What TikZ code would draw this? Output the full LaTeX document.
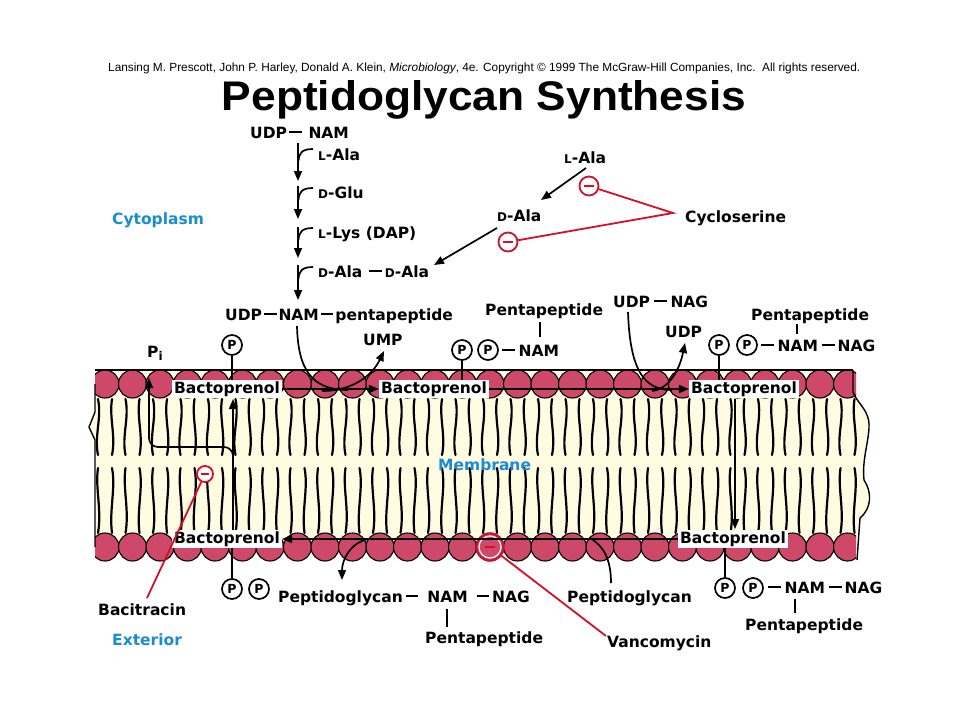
\documentclass[tikz,border=0pt]{standalone}
\usepackage{graphicx}
\usepackage{fontspec}
\setmainfont{DejaVu Sans}
\newfontfamily\libsans{Liberation Sans}
\usetikzlibrary{arrows.meta,calc}
\definecolor{headpink}{RGB}{205,72,105}
\definecolor{cream}{RGB}{255,252,226}
\definecolor{lblblue}{RGB}{25,140,210}
\definecolor{inhred}{RGB}{212,16,40}
\newcommand\sclet[1]{{\fontsize{12}{12}\selectfont #1}}
\newcommand\hbarr[2]{\hspace{#1}\rule[5pt]{12.5pt}{2.2pt}\hspace{#2}}
\begin{document}
\begin{tikzpicture}[x=1pt,y=-1pt,
  lbl/.style={font=\fontsize{15.5}{16}\selectfont\bfseries, inner sep=0pt, anchor=base west},
  bluelbl/.style={lbl, text=lblblue},
  bpbox/.style={font=\fontsize{15.5}{16}\selectfont\bfseries, fill=white, inner xsep=2pt, inner ysep=0pt, minimum height=18pt, anchor=center},
  pcirc/.style={circle, draw, line width=1.7pt, minimum size=20pt, inner sep=0pt, font=\fontsize{12.5}{13}\selectfont\bfseries, fill=white},
  minus/.style={circle, draw=inhred, fill=white, line width=1.8pt, minimum size=19pt, inner sep=0pt},
  mdash/.style={draw=inhred, line width=2pt},
  arr/.style={line width=1.7pt, -{Triangle[length=10pt,width=8pt]}},
  plain/.style={line width=1.7pt},
  redline/.style={draw=inhred, line width=1.8pt},
  tail/.style={line width=2.2pt, line cap=round},
  head/.style={fill=headpink, draw=black, line width=1.1pt},
]
\fill[white] (0,0) rectangle (960,720);
\useasboundingbox (0,0) rectangle (960,720);

% ---------- header ----------
\node[anchor=base west, inner sep=0pt] (copy) at (108,71) {\resizebox{752pt}{!}{\libsans\fontsize{10}{10}\selectfont Lansing M. Prescott, John P. Harley, Donald A. Klein, \textit{Microbiology}, 4e. Copyright © 1999 The McGraw-Hill Companies, Inc.\ \ All rights reserved.}};
\node[anchor=base, inner sep=0pt] (title) at (484,110) {\resizebox{524pt}{30pt}{\libsans\bfseries\fontsize{40}{40}\selectfont Peptidoglycan Synthesis}};

% ---------- membrane ----------
\fill[cream] (95,370) -- (853,370) -- (853,392) .. controls (858,405) and (870,410) .. (869,428) .. controls (868,445) and (862,460) .. (864,480) .. controls (872,492) and (872,508) .. (860,518) -- (857,547) -- (95,547) -- (95,440) -- (89,427) -- (95,412) -- cycle;
\foreach \k in {0,...,27}{
  \pgfmathsetmacro\xa{105+27.5*\k-7}
  \pgfmathsetmacro\xb{105+27.5*\k+7}
  \draw[tail] (\xa,399) .. controls (\xa+4,418) and (\xa-4,436) .. (\xa,455);
  \draw[tail] (\xb,399) .. controls (\xb-3,418) and (\xb+4,436) .. (\xb,455);
  \draw[tail] (\xa,468) .. controls (\xa-3,488) and (\xa+4,510) .. (\xa,533);
  \draw[tail] (\xb,468) .. controls (\xb+4,488) and (\xb-3,510) .. (\xb,533);
}
\begin{scope}
\clip (95,360) rectangle (856,570);
\foreach \k in {0,...,27}{
  \pgfmathsetmacro\hx{105+27.5*\k}
  \draw[head] (\hx,384) circle[radius=14];
  \draw[head] (\hx,547) circle[radius=14];
}
\end{scope}
\draw[line width=1.5pt] (95,370) -- (853,370);
\draw[line width=1.4pt] (95,384) -- (95,412) -- (89,427) -- (95,440) -- (95,547);
\draw[line width=1.4pt] (853,370) -- (853,392) .. controls (858,405) and (870,410) .. (869,428) .. controls (868,445) and (862,460) .. (864,480) .. controls (872,492) and (872,508) .. (860,518) -- (857,560);

% vancomycin target head
\draw[white, line width=1.2pt] (490,547) circle[radius=11];
\node[circle, draw=inhred, line width=2pt, minimum size=27pt, inner sep=0pt] (vhead) at (490,547) {};
\draw[mdash] (485,547) -- (495,547);

% ---------- cytoplasm pathway ----------
\node[bluelbl] (cyto) at (112,224) {Cytoplasm};
\node[lbl] (udpnam) at (250,138) {UDP\hbarr{2pt}{7pt}NAM};
\node[lbl] (lala) at (318,160) {\sclet{L}-Ala};
\node[lbl] (dglu) at (318,198) {\sclet{D}-Glu};
\node[lbl] (llys) at (318,238) {\sclet{L}-Lys (DAP)};
\node[lbl] (dada) at (318,277) {\sclet{D}-Ala\hbarr{7pt}{3pt}\sclet{D}-Ala};
\node[lbl] (udpnp) at (225,320) {UDP\hbarr{2pt}{2pt}NAM\hbarr{2pt}{2pt}pentapeptide};
\foreach \a/\b/\h in {143/181/149, 186/219/188, 227/258/228, 265/300/267}{
  \draw[arr] (298,\a) -- (298,\b);
  \draw[plain] (313,\h) .. controls (302,\h) and (299,\h+4) .. (298.5,\h+12);
}

\node[lbl] (lala2) at (564,163) {\sclet{L}-Ala};
\node[lbl] (dala2) at (497,221) {\sclet{D}-Ala};
\node[lbl] (cyclo) at (685,222) {Cycloserine};
\node[minus] (m1) at (589,186) {};
\draw[mdash] (584,186) -- (594,186);
\node[minus] (m2) at (508,242) {};
\draw[mdash] (503,242) -- (513,242);
\coordinate (cyv) at (673,213);
\draw[redline] (m1) -- (cyv) -- (m2);
\draw[arr] (586,168) -- (541,200);
\draw[arr] (497,228) -- (434,265);

% ---------- upper membrane surface ----------
\node[lbl] (pi) at (147,357) {P\raisebox{-3.5pt}{\fontsize{12}{12}\selectfont i}};
\node[pcirc] (p1) at (232,345) {P};
\node[bpbox] (bp1) at (227,389) {Bactoprenol};
\draw[plain] (p1.south) -- (232,380);
\node[lbl] (ump) at (363,345) {UMP};
\node[lbl] (pent1) at (485,315) {Pentapeptide};
\node[pcirc] (p2) at (462,350) {P};
\node[pcirc] (p3) at (488,350) {P};
\node[lbl] (nam1) at (502,356) {\hbarr{0pt}{4pt}NAM};
\draw[plain] (540,322) -- (540,337);
\node[bpbox] (bp2) at (434,389) {Bactoprenol};
\draw[plain] (p2.south) -- (462,380);
\node[lbl] (udpnag) at (613,307) {UDP\hbarr{4pt}{4pt}NAG};
\node[lbl] (udp) at (665,337) {UDP};
\node[lbl] (pent2) at (751,320) {Pentapeptide};
\node[pcirc] (p4) at (719,345) {P};
\node[pcirc] (p5) at (747,345) {P};
\node[lbl] (namnag1) at (761,351) {\hbarr{0pt}{4pt}NAM\hbarr{4pt}{3pt}NAG};
\draw[plain] (797,324) -- (797,334);
\node[bpbox] (bp3) at (744,389) {Bactoprenol};
\draw[plain] (p4.south) -- (719,380);
\node[bluelbl] (memb) at (438,470) {Membrane};

\draw[arr] (bp1.east) -- (bp2.west);
\draw[plain] (297,326) .. controls (298,370) and (312,390) .. (348,390);
\draw[arr] (322,391) .. controls (352,391) and (372,376) .. (384,351);
\draw[arr] (bp2.east) -- (bp3.west);
\draw[plain] (628,312) .. controls (630,372) and (645,390) .. (672,390);
\draw[arr] (652,391) .. controls (668,389) and (679,372) .. (685,343);
\draw[arr, line width=1.1pt] (735,399) -- (735,529);

% ---------- lower membrane surface ----------
\node[bpbox] (bp4) at (227,539) {Bactoprenol};
\draw[arr] (233,530) -- (233,399);
\draw[arr, rounded corners=9pt] (233,470) -- (233,447) -- (149,447) -- (149,378);
\node[minus, minimum size=16pt] (m3) at (205,474) {};
\draw[mdash] (201,474) -- (209,474);
\node[lbl] (baci) at (98,615) {Bacitracin};
\node[bluelbl] (exter) at (112,645) {Exterior};
\draw[redline] (147,598) -- (m3);

\node[pcirc] (p6) at (232,589) {P};
\node[pcirc] (p7) at (259,589) {P};
\draw[plain] (232,548) -- (p6.north);
\node[lbl] (pgnn) at (278,602) {Peptidoglycan\hbarr{3pt}{9pt}NAM\hbarr{9pt}{3pt}NAG};
\draw[plain] (447,609) -- (447,627);
\node[lbl] (pent3) at (425,643) {Pentapeptide};
\node[lbl] (pg) at (567,602) {Peptidoglycan};
\node[lbl] (vanco) at (607,647) {Vancomycin};
\draw[redline] (vhead) -- (606,636);
\draw[plain] (611,583) .. controls (611,560) and (604,546) .. (590,538);
\node[bpbox] (bp5) at (733,539) {Bactoprenol};
\node[pcirc] (p8) at (725,588) {P};
\node[pcirc] (p9) at (753,588) {P};
\draw[plain] (725,548) -- (p8.north);
\node[lbl] (namnag2) at (768,593) {\hbarr{0pt}{4pt}NAM\hbarr{4pt}{3pt}NAG};
\draw[plain] (795,599) -- (795,613);
\node[lbl] (pent4) at (745,630) {Pentapeptide};
\draw[arr] (bp5.west) -- (bp4.east);
\draw[arr] (368,539) .. controls (350,543) and (342,560) .. (342,580);
\end{tikzpicture}
\end{document}
